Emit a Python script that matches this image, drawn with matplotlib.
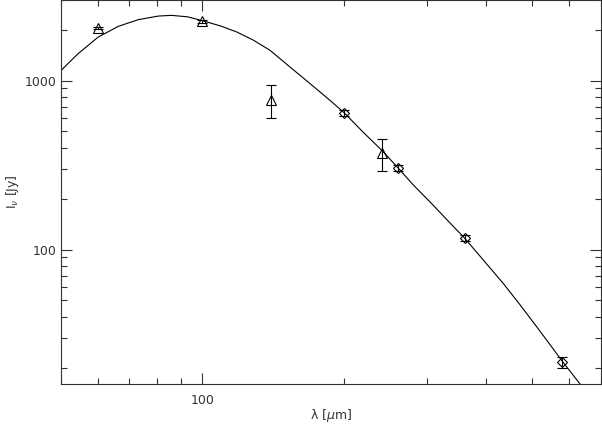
"""
Dust SED: DIRBE + PRONAOS fluxes with modified blackbody curve.
"""
import numpy as np
import matplotlib
matplotlib.use("Agg")
import matplotlib.pyplot as plt
from matplotlib.ticker import LogLocator, FixedLocator, NullFormatter, FixedFormatter

# DIRBE points (triangles)
dirbe_wave = [60, 100, 140, 240]
dirbe_flux = [2050, 2250, 770, 372]
dirbe_err = [40, 45, 170, 82]

# PRONAOS points (diamonds)
pron_wave = [200, 260, 360, 580]
pron_flux = [645, 304, 117, 21.6]
pron_err = [29, 14, 5, 1.6]

# fitted curve
curve_wave = [50, 54.5, 60.1, 66.3, 73.1, 80.6, 86, 93, 100.5, 109, 118.3,
              128, 139.1, 153.3, 169.1, 186.4, 200, 219, 240, 260.5, 280,
              304, 330, 360, 395, 434.5, 470, 511, 545, 581, 632]
curve_flux = [1140, 1445, 1810, 2095, 2295, 2410, 2434, 2385, 2253, 2110,
              1939, 1740, 1511, 1204, 960, 764, 643, 496, 387, 302, 241,
              191, 150, 116.5, 86, 62.9, 47.6, 35.0, 27.5, 21.6, 16.0]

fig = plt.figure(figsize=(6.02, 4.24), dpi=100)
ax = fig.add_axes([60.5 / 602, 40 / 424, (601 - 60.5) / 602, 384 / 424])

ax.plot(curve_wave, curve_flux, color="black", lw=0.8)
ax.errorbar(dirbe_wave, dirbe_flux, yerr=dirbe_err, fmt="^", ms=6.5,
            mfc="none", mec="black", mew=0.8, ecolor="black", elinewidth=0.8,
            capsize=3.6, capthick=0.8)
ax.errorbar(pron_wave, pron_flux, yerr=pron_err, fmt="D", ms=5,
            mfc="none", mec="black", mew=0.8, ecolor="black", elinewidth=0.8,
            capsize=3.6, capthick=0.8)

ax.set_xscale("log"); ax.set_yscale("log")
ax.set_xlim(50, 700); ax.set_ylim(16, 3000)

ax.xaxis.set_major_locator(FixedLocator([100]))
ax.xaxis.set_major_formatter(FixedFormatter(["100"]))
ax.xaxis.set_minor_locator(LogLocator(base=10, subs=np.arange(2, 10)))
ax.xaxis.set_minor_formatter(NullFormatter())
ax.yaxis.set_major_locator(FixedLocator([100, 1000]))
ax.yaxis.set_major_formatter(FixedFormatter(["100", "1000"]))
ax.yaxis.set_minor_locator(LogLocator(base=10, subs=np.arange(2, 10)))
ax.yaxis.set_minor_formatter(NullFormatter())

for s in ax.spines.values():
    s.set_color("#333333"); s.set_linewidth(0.8)
ax.tick_params(which="both", direction="in", top=True, right=True,
               color="#333333", width=0.8, labelsize=9, labelcolor="#333333")
ax.tick_params(which="major", length=8)
ax.tick_params(which="minor", length=4)
ax.tick_params(axis="x", pad=7)
ax.tick_params(axis="y", pad=3)

ax.set_xlabel(r"λ [$\mu$m]", fontsize=9, color="#333333")
ax.set_ylabel(r"I$_\nu$ [Jy]", fontsize=9, color="#333333")
ax.xaxis.set_label_coords(0.5, -(416 - 384) / 384)
ax.yaxis.set_label_coords((12 - 60.5) / 540.5, 0.5)
ax.xaxis.label.set_va("center")
ax.yaxis.label.set_va("center")

fig.savefig("out.png", dpi=100)
